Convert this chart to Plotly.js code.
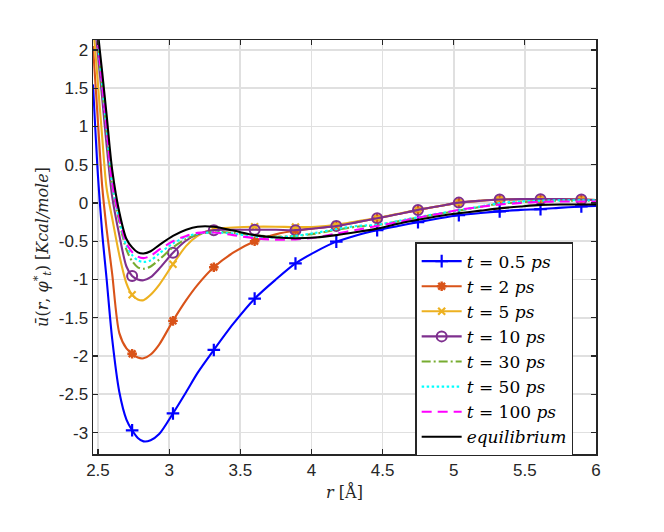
<!DOCTYPE html>
<html>
<head>
<meta charset="utf-8">
<script src="https://cdn.plot.ly/plotly-3.0.1.min.js"></script>
<style>body{margin:0;background:#fff;}#plot{width:664px;height:532px;}</style>
</head>
<body>
<div id="plot"></div>
<script>
// r grid (Angstrom)
var r = [2.465, 2.5, 2.53, 2.56, 2.6, 2.65, 2.7, 2.74, 2.78, 2.82, 2.87, 2.93, 3.027, 3.12, 3.2, 3.314, 3.45, 3.601, 3.75, 3.888, 4.03, 4.175, 4.32, 4.462, 4.61, 4.749, 4.9, 5.036, 5.19, 5.323, 5.47, 5.61, 5.76, 5.897, 6.0];
// indices of r where markers are drawn
var markerIdx = [7, 12, 15, 17, 19, 21, 23, 25, 27, 29, 31, 33];

var u_05 = [1.55, 0.35, -0.40, -0.98, -1.78, -2.47, -2.83, -2.97, -3.07, -3.115, -3.10, -3.02, -2.75, -2.47, -2.22, -1.92, -1.58, -1.25, -1.0, -0.79, -0.635, -0.505, -0.42, -0.355, -0.30, -0.25, -0.20, -0.16, -0.13, -0.11, -0.09, -0.08, -0.06, -0.045, -0.04];
var u_2 = [2.05, 1.05, 0.21, -0.33, -0.93, -1.70, -1.90, -1.97, -2.02, -2.03, -1.98, -1.85, -1.54, -1.27, -1.07, -0.84, -0.65, -0.50, -0.41, -0.36, -0.33, -0.30, -0.25, -0.20, -0.145, -0.09, -0.04, 0.005, 0.03, 0.045, 0.05, 0.05, 0.05, 0.045, 0.04];
var u_5 = [2.35, 1.55, 0.85, 0.2, -0.2, -0.68, -1.05, -1.2, -1.26, -1.27, -1.2, -1.07, -0.80, -0.56, -0.43, -0.34, -0.32, -0.31, -0.31, -0.315, -0.31, -0.285, -0.24, -0.195, -0.14, -0.09, -0.04, 0.0, 0.03, 0.045, 0.05, 0.05, 0.05, 0.045, 0.04];
var u_10 = [2.6, 1.94, 1.36, 0.77, 0.08, -0.42, -0.83, -0.955, -1.0, -1.01, -0.97, -0.86, -0.65, -0.49, -0.41, -0.355, -0.35, -0.35, -0.35, -0.355, -0.33, -0.30, -0.25, -0.20, -0.145, -0.09, -0.04, 0.005, 0.03, 0.045, 0.05, 0.05, 0.05, 0.045, 0.04];
var u_30 = [2.72, 2.07, 1.50, 0.95, 0.22, -0.25, -0.61, -0.76, -0.84, -0.86, -0.83, -0.74, -0.58, -0.47, -0.41, -0.38, -0.39, -0.42, -0.44, -0.43, -0.40, -0.35, -0.31, -0.29, -0.24, -0.19, -0.14, -0.10, -0.05, -0.01, 0.01, 0.025, 0.03, 0.03, 0.03];
var u_50 = [2.74, 2.09, 1.53, 0.98, 0.24, -0.22, -0.56, -0.68, -0.75, -0.77, -0.75, -0.66, -0.53, -0.44, -0.40, -0.385, -0.40, -0.44, -0.45, -0.43, -0.39, -0.34, -0.30, -0.285, -0.235, -0.185, -0.135, -0.095, -0.045, 0.0, 0.02, 0.03, 0.035, 0.035, 0.035];
var u_100 = [2.76, 2.1, 1.55, 1.0, 0.26, -0.2, -0.53, -0.64, -0.70, -0.72, -0.69, -0.61, -0.50, -0.43, -0.39, -0.385, -0.42, -0.46, -0.48, -0.475, -0.45, -0.40, -0.35, -0.30, -0.25, -0.19, -0.14, -0.09, -0.05, -0.02, 0.0, 0.015, 0.02, 0.02, 0.02];
var u_eq = [2.9, 2.22, 1.7, 1.16, 0.43, -0.12, -0.47, -0.58, -0.645, -0.66, -0.63, -0.55, -0.43, -0.35, -0.31, -0.31, -0.36, -0.42, -0.45, -0.46, -0.45, -0.42, -0.38, -0.335, -0.27, -0.22, -0.17, -0.135, -0.10, -0.07, -0.045, -0.025, -0.02, -0.02, -0.02];

var names = ['<i>t</i> = 0.5 <i>ps</i>', '<i>t</i> = 2 <i>ps</i>', '<i>t</i> = 5 <i>ps</i>', '<i>t</i> = 10 <i>ps</i>', '<i>t</i> = 30 <i>ps</i>', '<i>t</i> = 50 <i>ps</i>', '<i>t</i> = 100 <i>ps</i>', '<i>equilibrium</i>'];
var xTicks = [2.5, 3, 3.5, 4, 4.5, 5, 5.5, 6];
var yTicks = [-3, -2.5, -2, -1.5, -1, -0.5, 0, 0.5, 1, 1.5, 2];
var yTickText = ['-3', '-2.5', '-2', '-1.5', '-1', '-0.5', '0', '0.5', '1', '1.5', '2'];

var series = [u_05, u_2, u_5, u_10, u_30, u_50, u_100, u_eq];
var styles = [
  {c: '#0000ff', dash: 'solid', sym: 'cross-thin-open', ms: 9, mw: 2.2},
  {c: '#D95319', dash: 'solid', sym: 'asterisk-open', ms: 8, mw: 2.4},
  {c: '#EDB120', dash: 'solid', sym: 'x-thin-open', ms: 7, mw: 2.2},
  {c: '#7E2F8E', dash: 'solid', sym: 'circle-open', ms: 10, mw: 2},
  {c: '#77AC30', dash: '9px,3px,2px,3px', sym: null},
  {c: '#00ffff', dash: '2.5px,2.5px', sym: null},
  {c: '#ff00ff', dash: '10px,6px', sym: null},
  {c: '#000000', dash: 'solid', sym: null}
];

var traces = [];
var legendTraces = [];
series.forEach(function (ys, k) {
  var s = styles[k];
  traces.push({
    x: r, y: ys, type: 'scatter', mode: 'lines', showlegend: false, hoverinfo: 'skip',
    line: {color: s.c, width: 2.1, dash: s.dash, shape: 'spline', smoothing: 0.8}
  });
  var lt = {
    x: [null], y: [null], type: 'scatter', name: names[k],
    mode: 'lines',
    line: {color: s.c, width: 2.1, dash: s.dash}
  };
  if (s.sym) {
    var mk = {symbol: s.sym, size: s.ms, color: s.c, line: {color: s.c, width: s.mw}};
    traces.push({
      x: markerIdx.map(function (i) { return r[i]; }),
      y: markerIdx.map(function (i) { return ys[i]; }),
      type: 'scatter', mode: 'markers', showlegend: false, hoverinfo: 'skip',
      marker: mk
    });
    lt.mode = 'lines+markers';
    lt.marker = mk;
  }
  legendTraces.push(lt);
});

var axisCommon = {
  showline: true, linecolor: '#262626', linewidth: 1.5, mirror: 'ticks',
  ticks: 'inside', ticklen: 5, tickwidth: 1.2, tickcolor: '#262626',
  showgrid: true, gridcolor: '#e0e0e0', gridwidth: 1.8, zeroline: false,
  tickfont: {family: 'Liberation Sans, Arial, sans-serif', size: 17, color: '#262626'}
};

var layout = {
  width: 664, height: 532,
  margin: {l: 92.5, r: 68, t: 39.5, b: 78},
  paper_bgcolor: '#ffffff', plot_bgcolor: '#ffffff',
  showlegend: true,
  xaxis: Object.assign({}, axisCommon, {
    range: [2.465, 6], tickvals: xTicks, ticktext: xTicks.map(String),
    title: {text: '<i>r</i> [Å]', font: {family: 'DejaVu Serif, serif', size: 16, color: '#262626'}, standoff: 8}
  }),
  yaxis: Object.assign({}, axisCommon, {
    range: [-3.28, 2.13], tickvals: yTicks, ticktext: yTickText,
    title: {text: '<i>ū</i>(<i>r</i>, <i>φ</i><sup>*</sup><sub><i>t</i></sub>) [<i>Kcal/mole</i>]', font: {family: 'DejaVu Serif, serif', size: 16, color: '#262626'}, standoff: 6}
  }),
  legend: {
    x: 0.6405, y: 0.512, xanchor: 'left', yanchor: 'top',
    bgcolor: '#ffffff', bordercolor: '#262626', borderwidth: 1.5,
    font: {family: 'DejaVu Serif, serif', size: 17, color: '#000000'},
    itemwidth: 40, tracegroupgap: 0
  }
};

Plotly.newPlot('plot', traces.concat(legendTraces), layout, {displayModeBar: false, staticPlot: true});
</script>
</body>
</html>
